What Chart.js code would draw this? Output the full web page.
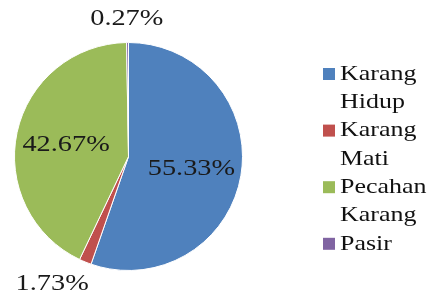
<!DOCTYPE html>
<html>
<head>
<meta charset="utf-8">
<script src="https://cdn.jsdelivr.net/npm/chart.js@4.4.0/dist/chart.umd.min.js"></script>
<style>
  html, body { margin: 0; padding: 0; background: #fff; }
  #wrap { position: relative; width: 431px; height: 300px; }
</style>
</head>
<body>
<div id="wrap"><canvas id="coverChart"></canvas></div>
<script>
const categories = ['Karang Hidup', 'Karang Mati', 'Pecahan Karang', 'Pasir'];
const percentages = [55.33, 1.73, 42.67, 0.27];
const sliceColors = ['#4F81BD', '#C0504D', '#9BBB59', '#8064A2'];

const FONT = '"Liberation Serif", "Times New Roman", serif';
const STRETCH = 1.18; // the original text is a bit wider than Times

function drawStretched(ctx, text, x, y) {
  ctx.save();
  ctx.translate(x, y);
  ctx.scale(STRETCH, 1);
  ctx.fillText(text, 0, 0);
  ctx.restore();
}

// percentage labels: inside the big slices, outside the small ones
const sliceLabels = {
  id: 'sliceLabels',
  afterDatasetsDraw(chart) {
    const ctx = chart.ctx;
    const meta = chart.getDatasetMeta(0);
    ctx.save();
    ctx.font = '24px ' + FONT;
    ctx.fillStyle = '#1a1a1a';
    ctx.textAlign = 'center';
    ctx.textBaseline = 'middle';
    meta.data.forEach(function(arc, i) {
      const p = arc.getProps(['x', 'y', 'startAngle', 'endAngle', 'outerRadius'], true);
      const mid = (p.startAngle + p.endAngle) / 2;
      const dx = Math.cos(mid), dy = Math.sin(mid);
      const text = percentages[i].toFixed(2) + '%';
      let x, y;
      if (percentages[i] >= 5) {
        x = p.x + dx * p.outerRadius * 0.56;
        y = p.y + dy * p.outerRadius * 0.56 + 2;
      } else {
        const w = ctx.measureText(text).width * STRETCH;
        const d = p.outerRadius + 14;
        x = p.x + dx * d + dx * w;
        y = p.y + dy * d + dy * 10;
      }
      drawStretched(ctx, text, x, y);
    });
    ctx.restore();
  }
};

// legend on the right, labels wrapped word by word
const sideLegend = {
  id: 'sideLegend',
  afterDraw(chart) {
    const ctx = chart.ctx;
    const boxX = 323, textX = 340, lineH = 28.3;
    let y = 74;
    const maxW = chart.width - textX - 1;
    ctx.save();
    ctx.font = '22px ' + FONT;
    ctx.textBaseline = 'middle';
    ctx.textAlign = 'left';
    categories.forEach(function(label, i) {
      const lines = [];
      let cur = '';
      label.split(' ').forEach(function(word) {
        const test = cur ? cur + ' ' + word : word;
        if (cur && ctx.measureText(test).width * STRETCH > maxW) {
          lines.push(cur);
          cur = word;
        } else {
          cur = test;
        }
      });
      lines.push(cur);
      ctx.fillStyle = sliceColors[i];
      ctx.fillRect(boxX, y - 6, 12, 12);
      ctx.fillStyle = '#111';
      lines.forEach(function(line) {
        drawStretched(ctx, line, textX, y);
        y += lineH;
      });
    });
    ctx.restore();
  }
};

const ctx = document.getElementById('coverChart').getContext('2d');
const coverChart = new Chart(ctx, {
  type: 'pie',
  data: {
    labels: categories,
    datasets: [{
      data: percentages,
      backgroundColor: sliceColors,
      borderColor: '#ffffff',
      borderWidth: 1
    }]
  },
  options: {
    responsive: true,
    maintainAspectRatio: false,
    animation: false,
    layout: {
      padding: { left: 14, right: 188, top: 42, bottom: 29 }
    },
    plugins: {
      legend: { display: false },
      tooltip: { enabled: false }
    }
  },
  plugins: [sliceLabels, sideLegend]
});
</script>
</body>
</html>
